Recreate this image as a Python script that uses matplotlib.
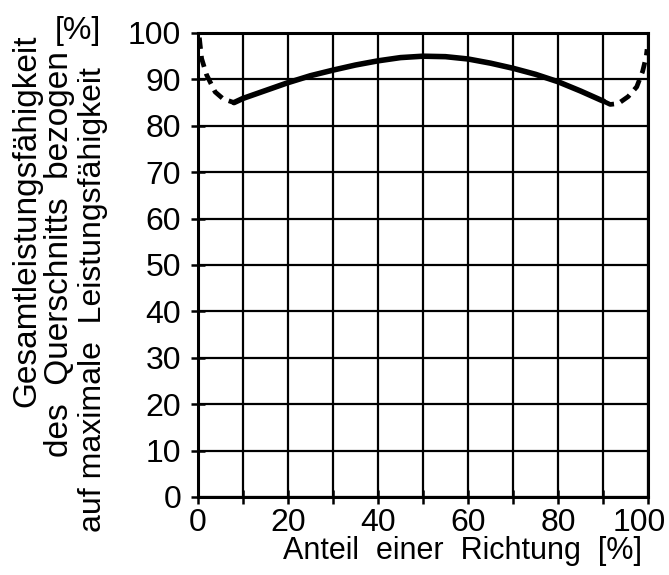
import matplotlib
matplotlib.use("Agg")
import matplotlib.pyplot as plt
from matplotlib.transforms import ScaledTranslation

# Anteil einer Richtung [%] -> Gesamtleistungsfaehigkeit [%]
left_x = [0.3, 0.8, 1.9, 3.8, 5.6, 8.0]
left_y = [99.0, 94.5, 91.0, 87.3, 85.8, 85.0]

mid_x = [8, 10, 15, 20, 25, 30, 35, 40, 45, 50, 55, 60, 65, 70, 75, 80, 85, 90.1]
mid_y = [85.0, 85.9, 87.6, 89.3, 90.8, 92.0, 93.1, 94.0, 94.7, 95.0, 94.9, 94.4,
         93.5, 92.4, 91.1, 89.5, 87.5, 85.3]

right_x = [90.1, 91.6, 93.4, 95.6, 97.5, 98.8, 99.6, 99.8]
right_y = [85.3, 84.6, 84.8, 86.3, 88.4, 91.7, 94.9, 96.5]

x_ticks = list(range(0, 101, 10))
x_labels = ["0", "", "20", "", "40", "", "60", "", "80", "", "100"]
y_ticks = list(range(0, 101, 10))

plt.rcParams["font.family"] = ["Liberation Sans", "DejaVu Sans"]

W, H = 669, 575
fig = plt.figure(figsize=(W / 100, H / 100), dpi=100)
ax = fig.add_axes([198 / W, 1 - 497 / H, 450 / W, 464 / H])

ax.plot(mid_x, mid_y, color="black", lw=4.0, solid_capstyle="round", zorder=3)
for xs, ys in ((left_x, left_y), (right_x, right_y)):
    ax.plot(xs, ys, color="black", lw=3.4, dashes=(2.4, 1.5), zorder=3)

ax.set_xlim(0, 100)
ax.set_ylim(0, 100)
ax.set_xticks(x_ticks)
ax.set_xticklabels(x_labels)
ax.set_yticks(y_ticks)
ax.grid(True, color="black", lw=1.6)
ax.set_axisbelow(True)
for s in ax.spines.values():
    s.set_linewidth(2.2)
ax.tick_params(axis="both", direction="inout", length=10, width=1.8,
               labelsize=23, colors="black")
ax.tick_params(axis="y", pad=7)
ax.tick_params(axis="x", pad=3)

# the "100" sits a bit left of its tick in the original
last = ax.get_xticklabels()[-1]
last.set_transform(last.get_transform() + ScaledTranslation(-9 / 100, 0, fig.dpi_scale_trans))

def fig_text(px, py, s, size=23, **kw):
    fig.text(px / W, 1 - py / H, s, fontsize=size, color="black", **kw)

fig_text(642, 559, "Anteil  einer  Richtung  [%]", size=22, ha="right", va="baseline")
fig_text(55, 39, "[%]", ha="left", va="baseline")

rot = dict(rotation=90, rotation_mode="anchor", ha="left", va="baseline")
fig_text(35, 407, "Gesamtleistungsfähigkeit", size=24, **rot)
fig_text(68, 457, "des  Querschnitts  bezogen", size=24, **rot)
fig_text(101, 532, "auf maximale  Leistungsfähigkeit", **rot)

fig.savefig("out.png", dpi=100)
